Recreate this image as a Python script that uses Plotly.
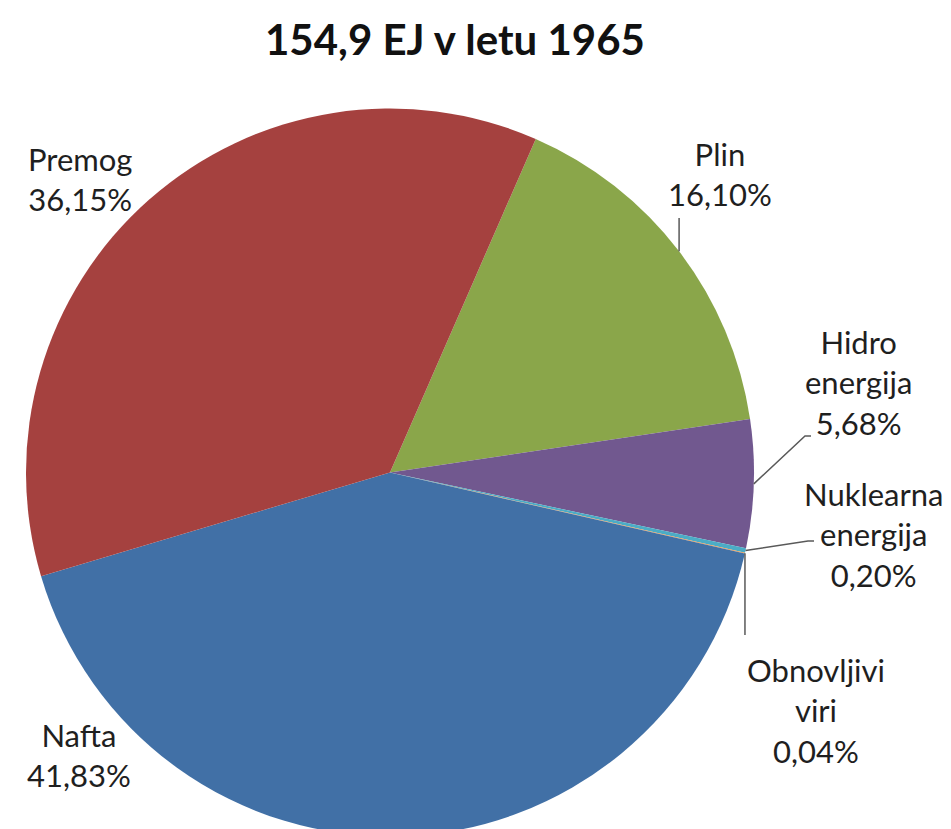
import math
import plotly.graph_objects as go

# ---- data ----
title_text = "154,9 EJ v letu 1965"
categories = ["Plin", "Hidro energija", "Nuklearna energija", "Obnovljivi viri", "Nafta", "Premog"]
label_lines = ["Plin", "Hidro<br>energija", "Nuklearna<br>energija", "Obnovljivi<br>viri", "Nafta", "Premog"]
shares = [16.10, 5.68, 0.20, 0.04, 41.83, 36.15]
pct_labels = ["16,10%", "5,68%", "0,20%", "0,04%", "41,83%", "36,15%"]
colors = ["#8AA64A", "#71588F", "#4BACC6", "#F79646", "#4170A6", "#A5413F"]

# ---- layout constants ----
W, H = 951, 829
cx, cy, R = 382.0, 464.5, 364.0        # pie centre / radius in px
rotation = 23.6                         # start angle of first slice (clockwise from 12 o'clock)

def px_to_paper(x, y):
    return x / W, 1 - y / H

def clamp(v):
    return min(1.0, max(0.0, v))

fig = go.Figure(go.Pie(
    labels=categories,
    values=shares,
    sort=False,
    direction="clockwise",
    rotation=rotation,
    marker=dict(colors=colors, line=dict(width=0)),
    textinfo="none",
    hoverinfo="label+percent",
    showlegend=False,
    domain=dict(x=[clamp((cx - R) / W), clamp((cx + R) / W)],
                y=[clamp(1 - (cy + R) / H), clamp(1 - (cy - R) / H)]),
))

# edge points at slice mid-angles (derived from data)
total = sum(shares)
anchors = []
acc = 0.0
for v in shares:
    mid = rotation + (acc + v / 2) / total * 360
    acc += v
    a = math.radians(mid)
    anchors.append((cx + R * math.sin(a), cy - R * math.cos(a)))

# label placements (px): centre of text block
label_pos = {
    "Plin": (712, 166),
    "Hidro energija": (850, 374),
    "Nuklearna energija": (866, 526),
    "Obnovljivi viri": (808, 702),
    "Nafta": (71, 747),
    "Premog": (72, 171),
}

font_family = "Lato, 'Open Sans', sans-serif"
annotations = []
for cat, lines, pct in zip(categories, label_lines, pct_labels):
    x, y = label_pos[cat]
    px, py = px_to_paper(x, y)
    annotations.append(dict(
        x=px, y=py, xref="paper", yref="paper", xanchor="center", yanchor="middle",
        text=f"{lines}<br>{pct}", showarrow=False, align="center",
        font=dict(family=font_family, size=31, color="#1f1f1f"),
    ))

tx, ty = px_to_paper(447, 31)
annotations.append(dict(
    x=tx, y=ty, xref="paper", yref="paper", xanchor="center", yanchor="middle",
    text=title_text, showarrow=False,
    font=dict(family=font_family, size=42, color="#111111", weight=700),
))

# leader lines: from slice edge to label
def path(points):
    pts = [px_to_paper(x, y) for x, y in points]
    return "M " + " L ".join(f"{x:.5f},{y:.5f}" for x, y in pts)

idx = {c: i for i, c in enumerate(categories)}
leader_points = [
    [anchors[idx["Plin"]], (anchors[idx["Plin"]][0], 210)],
    [anchors[idx["Hidro energija"]], (797, 428), (803, 428)],
    [anchors[idx["Nuklearna energija"]], (800, 533), (806, 533)],
    [anchors[idx["Obnovljivi viri"]], (anchors[idx["Obnovljivi viri"]][0], 627)],
]
shapes = [dict(type="path", xref="paper", yref="paper", path=path(p),
               line=dict(color="#595959", width=1.5)) for p in leader_points]

fig.update_layout(
    width=W, height=H,
    margin=dict(l=0, r=0, t=0, b=0),
    paper_bgcolor="white", plot_bgcolor="white",
    annotations=annotations,
    shapes=shapes,
)

fig.write_html("out.html")
